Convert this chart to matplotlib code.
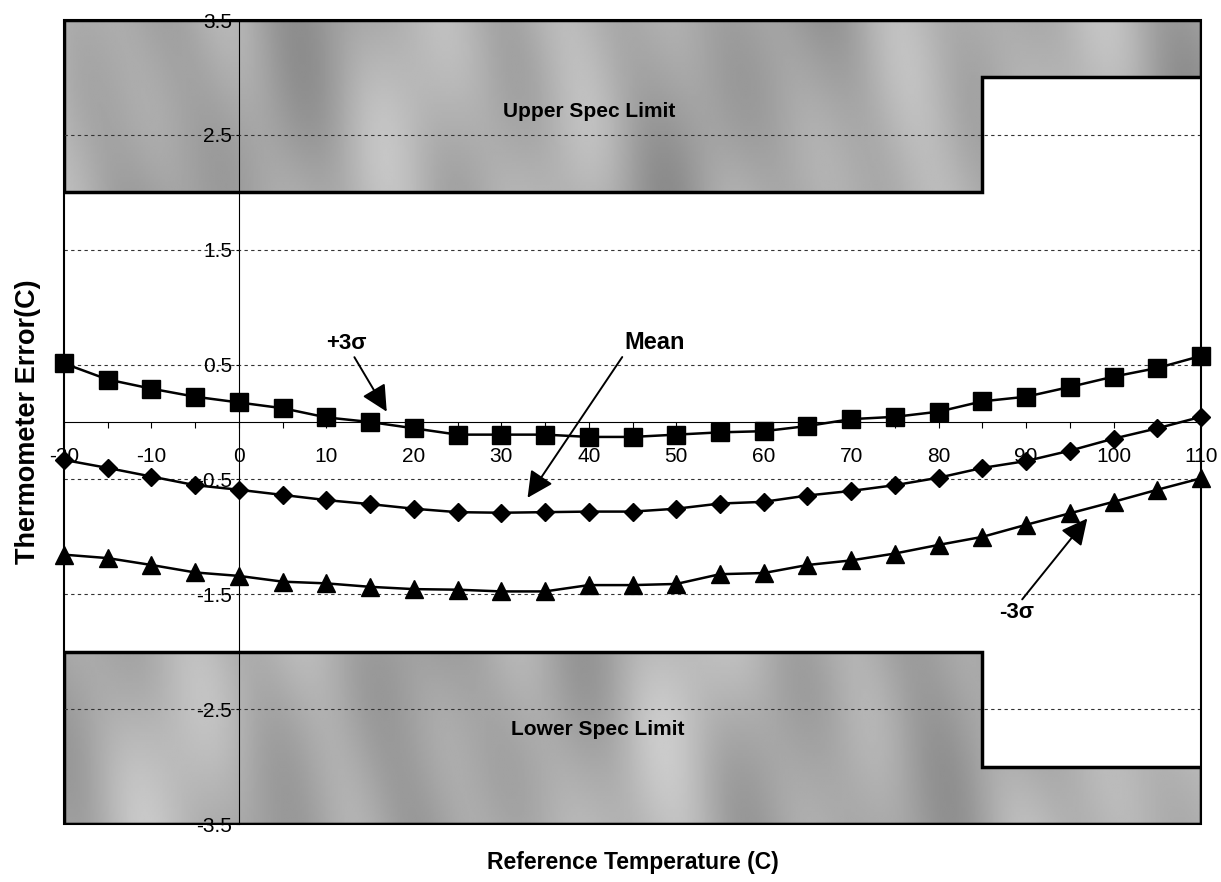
import numpy as np
import matplotlib
matplotlib.use("Agg")
import matplotlib.pyplot as plt
from matplotlib.patches import Polygon, Rectangle
from matplotlib.ticker import MultipleLocator, FormatStrFormatter

plt.rcParams['font.family'] = ['Liberation Sans', 'DejaVu Sans']
plt.rcParams['axes.unicode_minus'] = False

# data
temps = [-20, -15, -10, -5, 0, 5, 10, 15, 20, 25, 30, 35, 40, 45, 50,
         55, 60, 65, 70, 75, 80, 85, 90, 95, 100, 105, 110]
plus3 = [0.51, 0.37, 0.29, 0.22, 0.17, 0.12, 0.04, 0.00, -0.055, -0.11,
         -0.11, -0.11, -0.13, -0.13, -0.11, -0.09, -0.08, -0.035, 0.025,
         0.045, 0.09, 0.18, 0.22, 0.305, 0.395, 0.47, 0.575]
mean = [-0.33, -0.40, -0.475, -0.55, -0.59, -0.635, -0.68, -0.715, -0.755,
        -0.785, -0.79, -0.785, -0.78, -0.78, -0.755, -0.71, -0.695, -0.64,
        -0.60, -0.55, -0.485, -0.40, -0.34, -0.25, -0.145, -0.055, 0.045]
minus3 = [-1.155, -1.185, -1.245, -1.31, -1.34, -1.39, -1.405, -1.435,
          -1.455, -1.46, -1.475, -1.475, -1.42, -1.42, -1.41, -1.325, -1.315,
          -1.245, -1.205, -1.145, -1.07, -1.0, -0.895, -0.795, -0.695, -0.59,
          -0.49]

spec_x = [-20, 85, 85, 110]
spec_upper = [2, 2, 3, 3]
spec_lower = [-2, -2, -3, -3]
xmin, xmax, ymin, ymax = -20, 110, -3.5, 3.5

fig = plt.figure(figsize=(12.21, 8.82), dpi=100)
ax = fig.add_axes([64/1221, 1-824/882, (1201-64)/1221, (824-20)/882])
ax.set_xlim(xmin, xmax)
ax.set_ylim(ymin, ymax)

# mottled grey fill for the spec limit zones
gx, gy = np.meshgrid(np.linspace(xmin, xmax, 600), np.linspace(ymin, ymax, 300))
tex = (0.67
       + 0.06*np.sin(gx*0.28 + 0.9*np.sin(gy*1.3))*np.cos(gy*0.8 + gx*0.04)
       + 0.04*np.sin(gx*0.11 - gy*0.7 + 0.5)
       + 0.03*np.cos(gx*0.5 + gy*1.9))

for lim, edge in [(spec_upper, ymax), (spec_lower, ymin)]:
    pts = list(zip(spec_x, lim)) + [(xmax, edge), (xmin, edge)]
    poly = Polygon(pts, closed=True, facecolor='none', edgecolor='black',
                   lw=2.5, zorder=2)
    ax.add_patch(poly)
    im = ax.imshow(tex, extent=(xmin, xmax, ymin, ymax), origin='lower',
                   aspect='auto', cmap='gray', vmin=0, vmax=1, zorder=0.5,
                   interpolation='bilinear')
    im.set_clip_path(poly)

ax.text(40, 2.7, 'Upper Spec Limit', ha='center', va='center',
        fontsize=15, fontweight='bold', zorder=3)
ax.text(41, -2.68, 'Lower Spec Limit', ha='center', va='center',
        fontsize=15, fontweight='bold', zorder=3)

# series
ax.plot(temps, plus3, color='black', lw=1.8, marker='s', ms=12.5, zorder=4, clip_on=False)
ax.plot(temps, mean, color='black', lw=1.8, marker='D', ms=9.5, zorder=4, clip_on=False)
ax.plot(temps, minus3, color='black', lw=1.8, marker='^', ms=12.5, zorder=4, clip_on=False)

# annotations
arrow = dict(arrowstyle='-|>', color='black', lw=1.4, mutation_scale=40,
             shrinkA=0, shrinkB=0)
ax.annotate('+3\u03c3', xy=(16.9, 0.09), xytext=(12.3, 0.68),
            fontsize=16, fontweight='bold', ha='center', va='center',
            arrowprops=arrow, zorder=5)
ax.annotate('Mean', xy=(33.0, -0.66), xytext=(47.5, 0.69),
            fontsize=17, fontweight='bold', ha='center', va='center',
            arrowprops=dict(arrow, relpos=(0.0, 0.0)), zorder=5)
ax.annotate('-3\u03c3', xy=(97.0, -0.84), xytext=(88.9, -1.66),
            fontsize=16, fontweight='bold', ha='center', va='center',
            arrowprops=dict(arrow, relpos=(0.6, 1.0)), zorder=5)

# axes crossing at zero, outer frame
ax.spines['left'].set_position(('data', 0))
ax.spines['bottom'].set_position(('data', 0))
ax.spines['top'].set_visible(False)
ax.spines['right'].set_visible(False)
ax.spines['left'].set_linewidth(0.8)
ax.spines['bottom'].set_linewidth(0.8)
ax.add_patch(Rectangle((0, 0), 1, 1, transform=ax.transAxes, fill=False,
                       edgecolor='black', lw=1.5, zorder=6, clip_on=False))

ax.xaxis.set_major_locator(MultipleLocator(10))
ax.xaxis.set_minor_locator(MultipleLocator(5))
ax.yaxis.set_major_locator(MultipleLocator(1, offset=0.5))
ax.yaxis.set_major_formatter(FormatStrFormatter('%.1f'))
ax.tick_params(axis='x', which='both', direction='out', length=4, width=0.8,
               pad=14, labelsize=15)
ax.tick_params(axis='y', direction='out', length=2, width=0.8, pad=3,
               labelsize=15)
ax.yaxis.grid(True, linestyle=(0, (3, 3)), color='#333333', lw=0.8, zorder=1)
ax.set_axisbelow(False)

fig.text(28/1221, 1-422/882, 'Thermometer Error(C)', rotation=90,
         ha='center', va='center', fontsize=19.5, fontweight='bold')
fig.text(633/1221, 1-863/882, 'Reference Temperature (C)',
         ha='center', va='center', fontsize=16.5, fontweight='bold')

fig.savefig('out.png', dpi=100)
